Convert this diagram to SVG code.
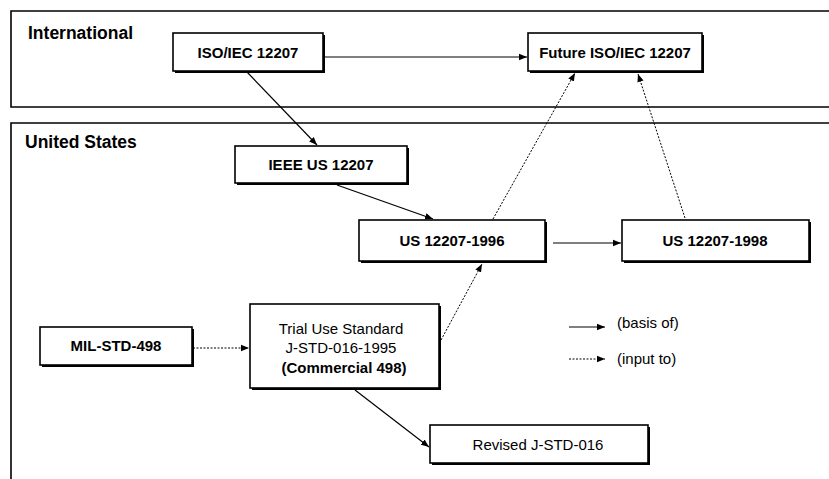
<svg xmlns="http://www.w3.org/2000/svg" width="829" height="479" viewBox="0 0 829 479">
<defs>
<marker id="ah" viewBox="0 0 10 10" refX="10" refY="5" markerWidth="8" markerHeight="8" markerUnits="userSpaceOnUse" orient="auto">
<path d="M0,1 L10,5 L0,9 z" fill="#000"/>
</marker>
</defs>
<style>
.panel{fill:none;stroke:#000;stroke-width:1.6}
.plabel{font-family:"Liberation Sans",Arial,sans-serif;font-size:17.5px;font-weight:bold;fill:#000}
.shadow{fill:#000}
.box{fill:#fff;stroke:#000;stroke-width:1.6}
.t{font-family:"Liberation Sans",Arial,sans-serif;font-size:15px;fill:#000;text-anchor:middle}
.b{font-weight:bold}
.solid{stroke:#000;stroke-width:1.2;fill:none;marker-end:url(#ah)}
.dot{stroke:#000;stroke-width:1;stroke-dasharray:2 1.5;fill:none;marker-end:url(#ah)}
</style>
<rect width="829" height="479" fill="#fff"/>
<g id="panel-international">
<path class="panel" d="M835,11 L11,11 L11,107 L835,107"/>
<text class="plabel" x="28" y="39">International</text>
</g>
<g id="panel-us">
<path class="panel" d="M835,123 L11,123 L11,485"/>
<text class="plabel" x="25" y="148">United States</text>
</g>
<g id="connectors">
<line class="solid" x1="323" y1="57" x2="527" y2="57"/>
<line class="solid" x1="247" y1="72" x2="317" y2="145"/>
<line class="solid" x1="337" y1="185" x2="433" y2="219"/>
<line class="solid" x1="553" y1="243" x2="621" y2="243"/>
<line class="dot" x1="493" y1="219" x2="575" y2="73"/>
<line class="dot" x1="685" y1="218" x2="638" y2="74"/>
<line class="dot" x1="193" y1="348" x2="249" y2="348"/>
<line class="dot" x1="441" y1="340" x2="482" y2="264"/>
<line class="solid" x1="355" y1="390" x2="429" y2="447"/>
</g>
<g id="node-iso">
<rect class="shadow" x="175" y="35" width="150" height="38"/>
<rect class="box" x="173" y="33" width="150" height="38"/>
<text class="t b" x="248" y="58">ISO/IEC 12207</text>
</g>
<g id="node-future-iso">
<rect class="shadow" x="530" y="35" width="174" height="38"/>
<rect class="box" x="528" y="33" width="174" height="38"/>
<text class="t b" x="615" y="58">Future ISO/IEC 12207</text>
</g>
<g id="node-ieee">
<rect class="shadow" x="237" y="148" width="172" height="37"/>
<rect class="box" x="235" y="146" width="172" height="37"/>
<text class="t b" x="321" y="170">IEEE US 12207</text>
</g>
<g id="node-us1996">
<rect class="shadow" x="361" y="222" width="186" height="41"/>
<rect class="box" x="359" y="220" width="186" height="41"/>
<text class="t b" x="452" y="246">US 12207-1996</text>
</g>
<g id="node-us1998">
<rect class="shadow" x="624" y="222" width="187" height="41"/>
<rect class="box" x="622" y="220" width="187" height="41"/>
<text class="t b" x="715" y="246">US 12207-1998</text>
</g>
<g id="node-mil">
<rect class="shadow" x="42" y="329" width="152" height="38"/>
<rect class="box" x="40" y="327" width="152" height="38"/>
<text class="t b" x="116" y="351">MIL-STD-498</text>
</g>
<g id="node-trial">
<rect class="shadow" x="252" y="306" width="189" height="84"/>
<rect class="box" x="250" y="304" width="189" height="84"/>
<text class="t" x="341" y="334">Trial Use Standard</text>
<text class="t" x="341" y="353">J-STD-016-1995</text>
<text class="t b" x="344" y="373">(Commercial 498)</text>
</g>
<g id="node-revised">
<rect class="shadow" x="432" y="427" width="218" height="38"/>
<rect class="box" x="430" y="425" width="218" height="38"/>
<text class="t" x="538" y="450">Revised J-STD-016</text>
</g>
<g id="legend">
<line class="solid" x1="569" y1="327" x2="605" y2="327"/>
<text class="t" x="617" y="328" style="text-anchor:start">(basis of)</text>
<line class="dot" x1="569" y1="359" x2="605" y2="359"/>
<text class="t" x="617" y="364" style="text-anchor:start">(input to)</text>
</g>
</svg>
